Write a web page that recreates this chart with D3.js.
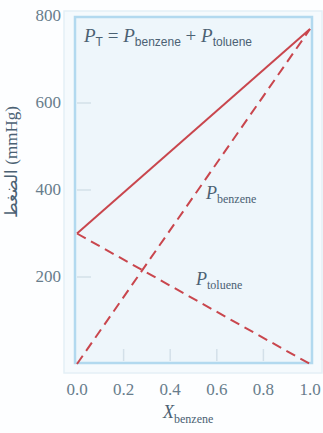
<!DOCTYPE html>
<html><head><meta charset="utf-8">
<script src="https://cdn.jsdelivr.net/npm/d3@7"></script>
<style>
html,body{margin:0;padding:0;background:#fdfeff;}
svg{display:block;}
svg text, svg tspan{font-family:'Liberation Serif', serif !important;}
svg tspan.sans{font-family:'Liberation Sans', sans-serif !important;}
</style></head>
<body>
<svg id="c" width="323" height="433"></svg>
<script>
// Data
const xTicks = [0.0, 0.2, 0.4, 0.6, 0.8, 1.0];
const yTicks = [200, 400, 600, 800];
const xBenzene = [0, 1];
const pBenzene = [0, 770];
const pToluene = [300, 0];
const pTotal = [300, 770];

const SERIF = "'Liberation Serif', serif";
const SANS = "'Liberation Sans', sans-serif";

const svg = d3.select("#c");
const x = d3.scaleLinear().domain([0, 1]).range([77, 310]);
const y = d3.scaleLinear().domain([0, 800]).range([364, 16]);

const textCol = "#4b6173";
const tickCol = "#687d8c";
const red = "#c9464d";

svg.append("rect").attr("x", 64).attr("y", 11).attr("width", 258).attr("height", 362)
  .attr("fill", "#f5fafd").attr("stroke", "#e4eff6").attr("stroke-width", 1.5);
svg.append("rect").attr("x", 75).attr("y", 17).attr("width", 237).attr("height", 346)
  .attr("fill", "#eef6fb").attr("stroke", "#b2d9ef").attr("stroke-width", 2.5);

const g = svg.append("g");
g.selectAll(".xt").data(xTicks.slice(1, -1)).join("line")
  .attr("x1", d => x(d)).attr("x2", d => x(d)).attr("y1", 349).attr("y2", 361)
  .attr("stroke", "#d3e0e9").attr("stroke-width", 1.5);
g.selectAll(".yt").data(yTicks.slice(0, -1)).join("line")
  .attr("x1", 77).attr("x2", 91).attr("y1", d => y(d)).attr("y2", d => y(d))
  .attr("stroke", "#d3e0e9").attr("stroke-width", 1.5);

svg.selectAll(".xl").data(xTicks).join("text")
  .attr("x", d => x(d)).attr("y", 395).attr("text-anchor", "middle")
  .style("font-family", SERIF, "important").style("font-size", "17px").attr("fill", tickCol)
  .text(d => d.toFixed(1));
svg.selectAll(".yl").data(yTicks).join("text")
  .attr("x", 61).attr("y", d => y(d) + 5).attr("text-anchor", "end")
  .style("font-family", SERIF, "important").style("font-size", "17px").attr("fill", tickCol)
  .text(d => d);

const line = d3.line().x(d => x(d[0])).y(d => y(d[1]));
svg.append("path").datum(xBenzene.map((v, i) => [v, pTotal[i]])).attr("d", line)
  .attr("fill", "none").attr("stroke", red).attr("stroke-width", 2);
svg.append("path").datum(xBenzene.map((v, i) => [v, pBenzene[i]])).attr("d", line)
  .attr("fill", "none").attr("stroke", red).attr("stroke-width", 2).attr("stroke-dasharray", "10,6");
svg.append("path").datum(xBenzene.map((v, i) => [v, pToluene[i]])).attr("d", line)
  .attr("fill", "none").attr("stroke", red).attr("stroke-width", 2).attr("stroke-dasharray", "10,6");

const f = svg.append("text").attr("x", 84).attr("y", 42)
  .style("font-family", SERIF, "important").style("font-size", "19px").attr("fill", textCol);
f.append("tspan").style("font-style", "italic").text("P");
f.append("tspan").attr("class", "sans").style("font-family", SANS, "important").style("font-size", "12px").attr("dy", 4).text("T");
f.append("tspan").attr("dy", -4).text(" = ");
f.append("tspan").style("font-style", "italic").text("P");
f.append("tspan").attr("class", "sans").style("font-family", SANS, "important").style("font-size", "12px").attr("dy", 4).text("benzene");
f.append("tspan").attr("dy", -4).text(" + ");
f.append("tspan").style("font-style", "italic").text("P");
f.append("tspan").attr("class", "sans").style("font-family", SANS, "important").style("font-size", "12px").attr("dy", 4).text("toluene");

function plabel(px, py, sub) {
  const t = svg.append("text").attr("x", px).attr("y", py)
    .style("font-family", SERIF, "important").style("font-size", "18px").attr("fill", textCol);
  t.append("tspan").style("font-style", "italic").text("P");
  t.append("tspan").style("font-size", "12px").attr("dy", 4).text(sub);
}
plabel(206, 199, "benzene");
plabel(196, 285, "toluene");

const xt = svg.append("text").attr("x", 163).attr("y", 418)
  .style("font-family", SERIF, "important").style("font-size", "18px").attr("fill", textCol);
xt.append("tspan").style("font-style", "italic").text("X");
xt.append("tspan").style("font-size", "12px").attr("dy", 5).text("benzene");

svg.append("text").attr("transform", "translate(17,162) rotate(-90)")
  .attr("text-anchor", "middle")
  .style("font-family", SERIF, "important").style("font-size", "17px").attr("fill", textCol)
  .text("الضغط (mmHg)");
</script>
</body></html>
